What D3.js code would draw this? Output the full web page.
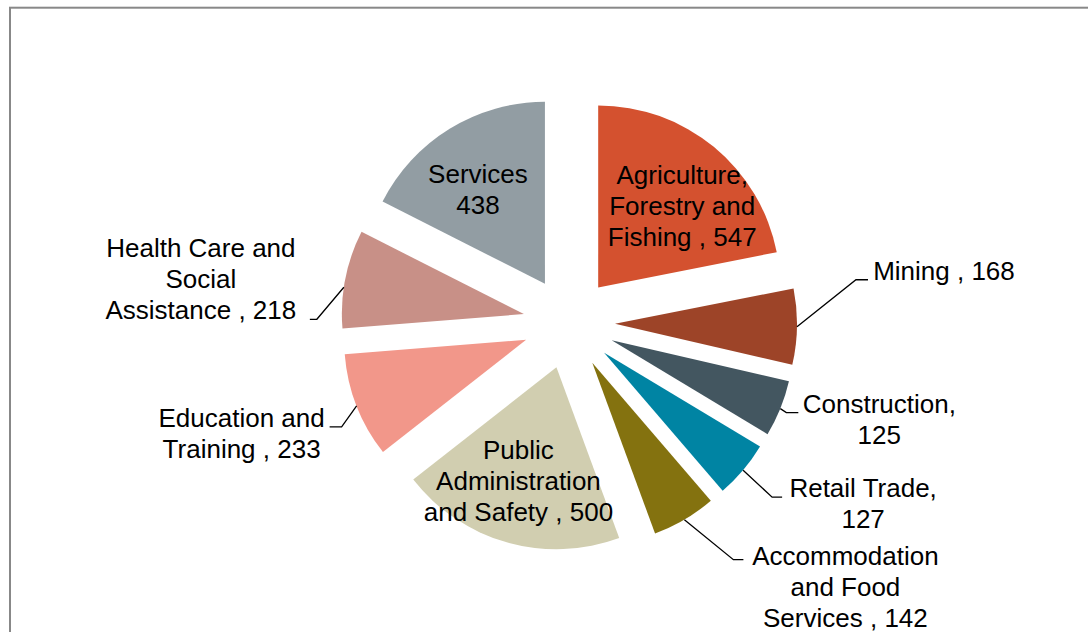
<!DOCTYPE html>
<html>
<head>
<meta charset="utf-8">
<script src="https://cdn.jsdelivr.net/npm/d3@7"></script>
<style>
  html, body { margin: 0; padding: 0; background: #ffffff; }
  svg { display: block; }
  text { font-family: "Liberation Sans", Arial, sans-serif; font-size: 26px; fill: #000; }
</style>
</head>
<body>
<svg id="chart" width="1088" height="632"></svg>
<script>
// Employment by industry
const categories = [
  "Agriculture, Forestry and Fishing",
  "Mining",
  "Construction",
  "Retail Trade",
  "Accommodation and Food Services",
  "Public Administration and Safety",
  "Education and Training",
  "Health Care and Social Assistance",
  "Services"
];
const values = [547, 168, 125, 127, 142, 500, 233, 218, 438];

// Label text, one entry per line; {v} is replaced by the slice value
const labelLines = [
  ["Agriculture,", "Forestry and", "Fishing , {v}"],
  ["Mining , {v}"],
  ["Construction,", "{v}"],
  ["Retail Trade,", "{v}"],
  ["Accommodation", "and Food", "Services , {v}"],
  ["Public", "Administration", "and Safety , {v}"],
  ["Education and", "Training , {v}"],
  ["Health Care and", "Social", "Assistance , {v}"],
  ["Services", "{v}"]
];

const colors = [
  "#D4512F", "#9D4428", "#435660", "#0084A3", "#84720F",
  "#D1CEB0", "#F2978A", "#C89087", "#929DA3"
];

// Label placement. Inside labels: offset of the text block from the slice apex.
// Outside labels: elbow offset from the leader's start on the rim, length of the
// horizontal run, and text centre relative to the end of the run.
const labelLayout = [
  { inside: true, dx: 84, dy: -103 },
  { elbow: [59, -47], run: 12, text: [76, 0] },
  { elbow: [6, 4], run: 12, text: [81, 0] },
  { elbow: [29, 27], run: 10, text: [81, 0] },
  { elbow: [49, 40], run: 10, text: [102, 5] },
  { inside: true, dx: -38, dy: 92 },
  { elbow: [-15, 21], run: -12, text: [-88, 0] },
  { elbow: [-27, 32], run: -7, text: [-109, -62], shift: -2.7 },
  { inside: true, dx: -67, dy: -101 }
];

const W = 1088, H = 632;
const cx = 569, cy = 323;
const radius = 182;
const explode = 46;
const lineGap = 31;

const svg = d3.select("#chart");

// chart area frame (runs past the right and bottom edges)
svg.append("rect")
  .attr("x", 10).attr("y", 7.7)
  .attr("width", W + 20).attr("height", H + 20)
  .attr("fill", "none")
  .attr("stroke", "#888888")
  .attr("stroke-width", 2);

const pie = d3.pie().sort(null).value(d => d)
  .startAngle(0).endAngle(2 * Math.PI);
const arcs = pie(values);

const arc = d3.arc().innerRadius(0).outerRadius(radius);

const g = svg.append("g").attr("transform", `translate(${cx},${cy})`);

function polar(angle, r) {
  return [Math.sin(angle) * r, -Math.cos(angle) * r];
}

arcs.forEach((a, i) => {
  const mid = (a.startAngle + a.endAngle) / 2;
  const [ox, oy] = polar(mid, explode);
  const slice = g.append("g").attr("transform", `translate(${ox},${oy})`);

  slice.append("path")
    .attr("d", arc(a))
    .attr("fill", colors[i]);

  const lay = labelLayout[i];
  const lines = labelLines[i].map(s => s.replace("{v}", values[i]));

  if (lay.inside) {
    const t = slice.append("text")
      .attr("text-anchor", "middle")
      .attr("x", lay.dx).attr("y", lay.dy);
    lines.forEach((s, k) => {
      t.append("tspan").attr("x", lay.dx).attr("y", lay.dy + k * lineGap).text(s);
    });
  } else {
    const ang = mid + (lay.shift || 0) * Math.PI / 180;
    const [sx, sy] = polar(ang, radius);
    const ex = sx + lay.elbow[0], ey = sy + lay.elbow[1];
    const rx = ex + lay.run;
    slice.append("path")
      .attr("d", `M${sx},${sy}L${ex},${ey}L${rx},${ey}`)
      .attr("fill", "none")
      .attr("stroke", "#000")
      .attr("stroke-width", 1.3);
    const tx = rx + lay.text[0], ty = ey + lay.text[1];
    const t = slice.append("text").attr("text-anchor", "middle");
    lines.forEach((s, k) => {
      t.append("tspan").attr("x", tx).attr("y", ty + k * lineGap).text(s);
    });
  }
});
</script>
</body>
</html>
